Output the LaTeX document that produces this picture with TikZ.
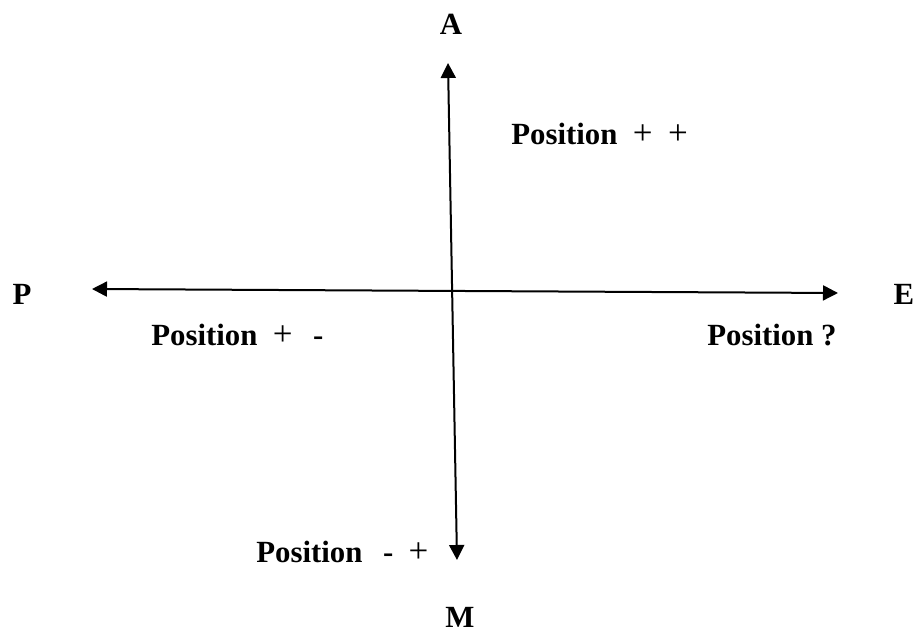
\documentclass[tikz,border=0pt]{standalone}
\usepackage{fontspec}
\setmainfont{Liberation Serif}
\usepackage{tikz}
\usetikzlibrary{arrows.meta}

\newcommand{\sgnplus}{{\fontsize{17.5}{18}\selectfont\mdseries+}}

\begin{document}
\begin{tikzpicture}[>={Triangle[length=7.5pt,width=7.5pt]}, x=0.5pt, y=-0.5pt,
  axis/.style={line width=1pt},
  quadlabel/.style={anchor=base west, inner sep=0pt, font=\fontsize{15.4}{18}\selectfont\bfseries},
  pole/.style={anchor=base, inner sep=0pt, font=\fontsize{15.4}{18}\selectfont\bfseries}]
\useasboundingbox (0,0) rectangle (917,631);
% axis end points
\coordinate (top)    at (448, 63);
\coordinate (bottom) at (457,560);
\coordinate (left)   at ( 92,289);
\coordinate (right)  at (838,293);
% axes
\draw[axis,<->] (top) -- (bottom);
\draw[axis,<->] (left) -- (right);
% pole letters
\node[pole] (A) at (451, 35) {A};
\node[pole] (M) at (460,627) {M};
\node[pole] (P) at ( 22,305) {P};
\node[pole] (E) at (904,305) {E};
% quadrant labels
\node[quadlabel] (pp) at (511,145) {Position\ \ \sgnplus\ \ \sgnplus};
\node[quadlabel] (pm) at (151,345) {Position\ \ \sgnplus\ \ \,-};
\node[quadlabel] (pq) at (707,345) {Position ?};
\node[quadlabel] (mp) at (256,562) {Position\ \ \,-\ \ \sgnplus};
\end{tikzpicture}
\end{document}
